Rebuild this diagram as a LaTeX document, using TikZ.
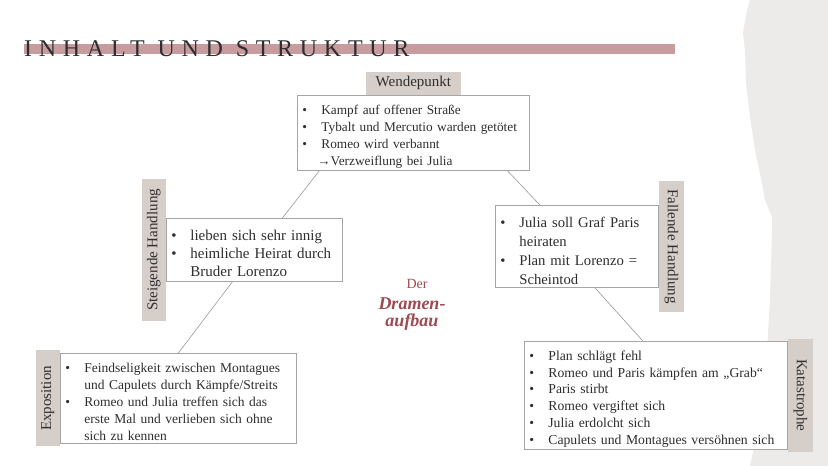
\documentclass[tikz,border=0pt]{standalone}
\usepackage{fontspec}
\setmainfont{Liberation Serif}
\newfontfamily\headfont[LetterSpace=28]{Liberation Serif}
\usepackage{tikz}
\usetikzlibrary{positioning}
\definecolor{paper}{HTML}{ECEBE9}
\definecolor{taupe}{HTML}{D6CEC9}
\definecolor{rose}{HTML}{C69C9E}
\definecolor{wine}{HTML}{9E4A52}
\definecolor{ink}{HTML}{2E2E2E}
\definecolor{frame}{HTML}{A5A5A5}
\newcommand\itm{\par\noindent\hangindent=19pt\hangafter=1\makebox[19pt][l]{\textbullet}}
\tikzset{
headline/.style={ % title over the bar
anchor=base west, inner sep=0pt, text=ink,
font=\headfont\fontsize{24}{24}\selectfont},
textbox/.style={ % white boxes with the points
draw=frame, line width=0.8pt, fill=white,
anchor=north west, inner xsep=5pt, inner ysep=2pt,
align=left, text=ink},
lab/.style={ % grey-brown tags
fill=taupe, inner sep=0pt, text=ink,
font=\fontsize{15}{15}\selectfont},
link/.style={draw=gray!80, line width=0.6pt}}

\begin{document}
\begin{tikzpicture}[x=1pt, y=-1pt]
\fill[white] (0,0) rectangle (828,466);
\fill[paper] (750,0) -- (747,10) -- (743,33) -- (745,50) -- (746,83) -- (750,117)
 -- (755,150) -- (762,183) -- (765,200) -- (772,217) -- (772,233) -- (771,267)
 -- (770,300) -- (768,333) -- (767,350) -- (763,383) -- (762,400) -- (757,433)
 -- (750,466) -- (828,466) -- (828,0) -- cycle;

\fill[rose] (24,44) rectangle (675,54);
\node[headline] (title) at (24,56) {INHALT UND STRUKTUR};

\node[textbox, font=\fontsize{13.3}{17}\selectfont, text width=222, minimum height=74] (wende) at (297,95)
 {\itm Kampf auf offener Straße
  \itm Tybalt und Mercutio warden getötet
  \itm Romeo wird verbannt\newline\hspace*{-4pt}→Verzweiflung bei Julia\par};
\node[lab, above=0pt of wende, minimum width=95, minimum height=23] (wendelab) {Wendepunkt};

\node[textbox, font=\fontsize{15}{18}\selectfont, text width=166, minimum height=63] (steig) at (166,218)
 {\itm lieben sich sehr innig
  \itm heimliche Heirat durch\newline Bruder Lorenzo\par};
\node[lab, rotate=90, anchor=south, minimum width=142, minimum height=24] (steiglab) at (steig.west) {Steigende Handlung};

\node[textbox, font=\fontsize{14.7}{19}\selectfont, text width=153, minimum height=82] (fall) at (495,205)
 {\itm Julia soll Graf Paris\newline heiraten
  \itm Plan mit Lorenzo =\newline Scheintod\par};
\node[lab, rotate=-90, anchor=south, minimum width=131, minimum height=25] (falllab) at (fall.east) {Fallende Handlung};

\node[textbox, font=\fontsize{13.5}{17}\selectfont, text width=226, minimum height=90] (expo) at (60,353)
 {\itm Feindseligkeit zwischen Montagues\newline und Capulets durch Kämpfe/Streits
  \itm Romeo und Julia treffen sich das\newline erste Mal und verlieben sich ohne\newline sich zu kennen\par};
\node[lab, rotate=90, anchor=south, minimum width=96, minimum height=24] (expolab) at (expo.west) {Exposition};

\node[textbox, font=\fontsize{13.7}{16.8}\selectfont, text width=253, minimum height=107] (kata) at (524,341)
 {\itm Plan schlägt fehl
  \itm Romeo und Paris kämpfen am „Grab“
  \itm Paris stirbt
  \itm Romeo vergiftet sich
  \itm Julia erdolcht sich
  \itm Capulets und Montagues versöhnen sich\par};
\node[lab, rotate=-90, anchor=south, minimum width=113, minimum height=25] (katalab) at (kata.east) {Katastrophe};

\draw[link] ([xshift=-94pt]wende.south) -- ([xshift=28pt]steig.north);
\draw[link] ([xshift=-22pt]steig.south) -- (expo.north);
\draw[link] ([xshift=94pt]wende.south) -- ([xshift=-37pt]fall.north);
\draw[link] ([xshift=18pt]fall.south) -- ([xshift=-13pt]kata.north);

\node[text=wine, font=\fontsize{14}{14}\selectfont] (der) at (417,284) {Der};
\node[text=wine, align=center, font=\bfseries\itshape\fontsize{18}{17}\selectfont] (aufbau) at (412,314) {Dramen-\\aufbau};
\end{tikzpicture}
\end{document}
